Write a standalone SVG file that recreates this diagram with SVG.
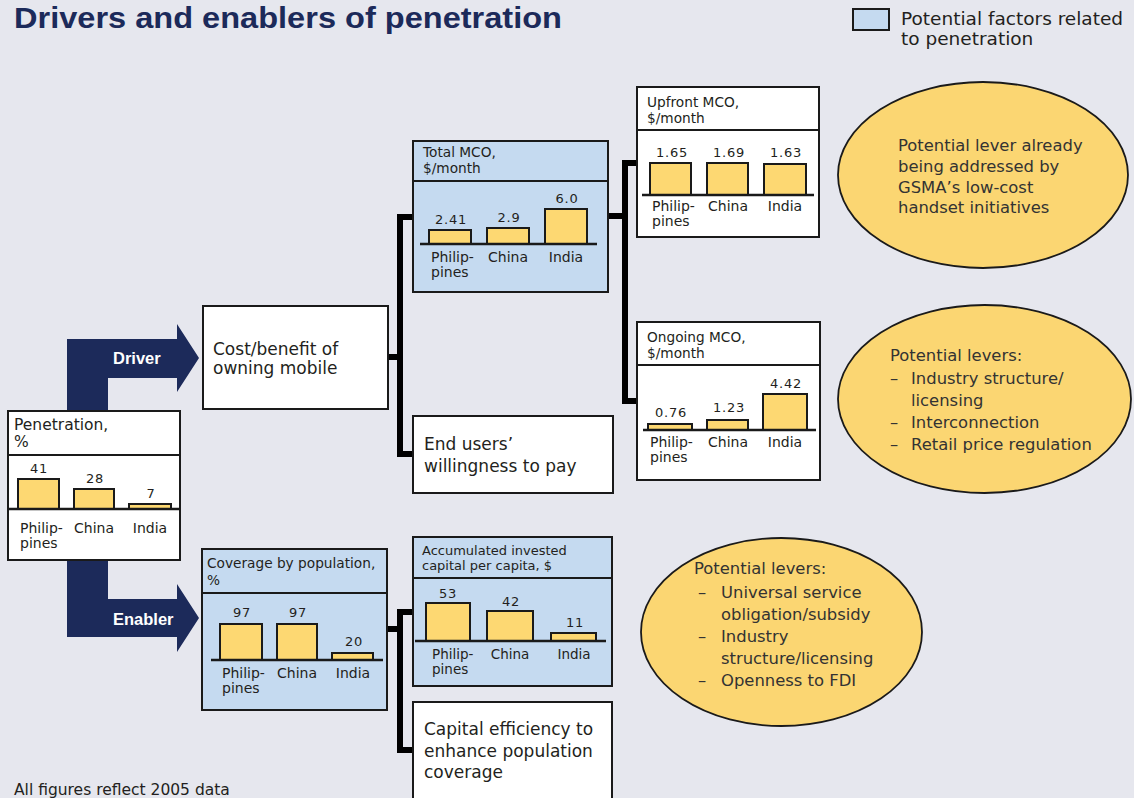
<svg xmlns="http://www.w3.org/2000/svg" width="1134" height="798" viewBox="0 0 1134 798">
  <defs>
    <style>
      .t { font-family: "DejaVu Sans", "Liberation Sans", sans-serif; fill: #231f20; }
      .ttl { font-size: 13.7px; }
      .big { font-size: 17px; }
      .val { font-size: 13px; letter-spacing: 0.8px; text-anchor: middle; }
      .ctry { font-size: 14px; }
      .mid { text-anchor: middle; }
      .lev { font-family: "DejaVu Sans", "Liberation Sans", sans-serif; font-size: 16.4px; fill: #333333; }
      .box { fill: #ffffff; stroke: #1a1a1a; stroke-width: 2; }
      .fac { fill: #c5daf0; stroke: #1a1a1a; stroke-width: 2; }
      .div { stroke: #1a1a1a; stroke-width: 2; }
      .axis { stroke: #1a1a1a; stroke-width: 2.5; }
      .bar { fill: #fdd872; stroke: #1a1a1a; stroke-width: 2; }
      .oval { fill: #fbd672; stroke: #1a1a1a; stroke-width: 1.8; }
      .conn { fill: none; stroke: #000000; stroke-width: 6; stroke-linejoin: miter; }
      .lbl { font-family: "Liberation Sans", Arial, sans-serif; font-weight: bold; font-size: 16.5px; fill: #ffffff; }
    </style>
  </defs>

  <!-- page background -->
  <rect x="0" y="0" width="1134" height="798" fill="#e6e7ee"/>

  <!-- title -->
  <text x="14" y="28" font-family="Liberation Sans, Arial, sans-serif" font-weight="bold" font-size="29" fill="#1c2a5a" textLength="548" lengthAdjust="spacingAndGlyphs">Drivers and enablers of penetration</text>

  <!-- legend -->
  <g id="legend">
    <rect x="853" y="9" width="36" height="21" class="fac"/>
    <text x="901" y="25" class="t" font-size="18.5" fill="#333">Potential factors related</text>
    <text x="901" y="45" class="t" font-size="18.5" fill="#333">to penetration</text>
  </g>

  <!-- driver / enabler arrows -->
  <g id="arrows">
    <path d="M67,339 H177 V324 L199,358 L177,392 V378 H108 V599 H177 V584 L199,618 L177,652 V637 H67 Z" fill="#1c2a5a"/>
    <text x="113" y="364" class="lbl">Driver</text>
    <text x="113" y="625" class="lbl">Enabler</text>
  </g>

  <!-- connectors -->
  <g id="connectors">
    <path class="conn" d="M413,217 H400 V454 H413 M388,357 H400"/>
    <path class="conn" d="M637,163 H625 V401 H637 M608,216 H625"/>
    <path class="conn" d="M413,612 H400 V750 H413 M387,629 H400"/>
  </g>

  <!-- penetration -->
  <g id="penetration">
    <rect x="8" y="411" width="172" height="149" class="box"/>
    <line x1="8" y1="455" x2="180" y2="455" class="div"/>
    <text x="14" y="430" class="t" font-size="15.5">Penetration,</text>
    <text x="14" y="447" class="t" font-size="15.5">%</text>
    <rect x="18" y="479" width="41" height="30" class="bar"/>
    <rect x="74" y="489" width="40" height="20" class="bar"/>
    <rect x="129" y="504" width="42" height="5" class="bar"/>
    <line x1="8" y1="509" x2="180" y2="509" class="axis"/>
    <text x="39" y="473" class="t val" font-size="14">41</text>
    <text x="95" y="483" class="t val" font-size="14">28</text>
    <text x="151" y="498" class="t val" font-size="14">7</text>
    <text x="20" y="533" class="t ctry">Philip-</text>
    <text x="20" y="548" class="t ctry">pines</text>
    <text x="94" y="533" class="t ctry mid">China</text>
    <text x="150" y="533" class="t ctry mid">India</text>
  </g>

  <!-- cost/benefit -->
  <g id="cost-benefit">
    <rect x="203" y="306" width="185" height="103" class="box"/>
    <text x="213" y="355" class="t big">Cost/benefit of</text>
    <text x="213" y="374" class="t big">owning mobile</text>
  </g>

  <!-- willingness to pay -->
  <g id="willingness">
    <rect x="413" y="416" width="200" height="77" class="box"/>
    <text x="424" y="450" class="t big">End users’</text>
    <text x="424" y="472" class="t big">willingness to pay</text>
  </g>

  <!-- total MCO -->
  <g id="total-mco">
    <rect x="413" y="141" width="195" height="151" class="fac"/>
    <line x1="413" y1="181" x2="608" y2="181" class="div"/>
    <text x="423" y="157" class="t ttl">Total MCO,</text>
    <text x="423" y="173" class="t ttl">$/month</text>
    <rect x="429" y="230" width="42" height="14" class="bar"/>
    <rect x="487" y="228" width="42" height="16" class="bar"/>
    <rect x="545" y="209" width="42" height="35" class="bar"/>
    <line x1="420" y1="244" x2="597" y2="244" class="axis"/>
    <text x="451" y="224" class="t val">2.41</text>
    <text x="509" y="222" class="t val">2.9</text>
    <text x="567" y="203" class="t val">6.0</text>
    <text x="431" y="262" class="t ctry">Philip-</text>
    <text x="431" y="277" class="t ctry">pines</text>
    <text x="508" y="262" class="t ctry mid">China</text>
    <text x="566" y="262" class="t ctry mid">India</text>
  </g>

  <!-- upfront MCO -->
  <g id="upfront-mco">
    <rect x="637" y="87" width="182" height="150" class="box"/>
    <line x1="637" y1="130" x2="819" y2="130" class="div"/>
    <text x="647" y="107" class="t ttl">Upfront MCO,</text>
    <text x="647" y="123" class="t ttl">$/month</text>
    <rect x="650" y="163" width="41" height="32" class="bar"/>
    <rect x="707" y="163" width="41" height="32" class="bar"/>
    <rect x="764" y="164" width="42" height="31" class="bar"/>
    <line x1="642" y1="195" x2="814" y2="195" class="axis"/>
    <text x="672" y="157" class="t val">1.65</text>
    <text x="729" y="157" class="t val">1.69</text>
    <text x="786" y="157" class="t val">1.63</text>
    <text x="652" y="211" class="t ctry">Philip-</text>
    <text x="652" y="226" class="t ctry">pines</text>
    <text x="728" y="211" class="t ctry mid">China</text>
    <text x="785" y="211" class="t ctry mid">India</text>
  </g>

  <!-- ongoing MCO -->
  <g id="ongoing-mco">
    <rect x="637" y="322" width="183" height="158" class="box"/>
    <line x1="637" y1="365" x2="820" y2="365" class="div"/>
    <text x="647" y="342" class="t ttl">Ongoing MCO,</text>
    <text x="647" y="358" class="t ttl">$/month</text>
    <rect x="648" y="424" width="44" height="6" class="bar"/>
    <rect x="707" y="420" width="41" height="10" class="bar"/>
    <rect x="763" y="394" width="44" height="36" class="bar"/>
    <line x1="643" y1="430" x2="816" y2="430" class="axis"/>
    <text x="671" y="417" class="t val">0.76</text>
    <text x="729" y="412" class="t val">1.23</text>
    <text x="786" y="388" class="t val">4.42</text>
    <text x="650" y="447" class="t ctry">Philip-</text>
    <text x="650" y="462" class="t ctry">pines</text>
    <text x="728" y="447" class="t ctry mid">China</text>
    <text x="785" y="447" class="t ctry mid">India</text>
  </g>

  <!-- coverage by population -->
  <g id="coverage">
    <rect x="202" y="549" width="185" height="161" class="fac"/>
    <line x1="202" y1="593" x2="387" y2="593" class="div"/>
    <text x="207" y="568" class="t ttl">Coverage by population,</text>
    <text x="207" y="585" class="t ttl">%</text>
    <rect x="220" y="624" width="42" height="36" class="bar"/>
    <rect x="277" y="624" width="40" height="36" class="bar"/>
    <rect x="332" y="653" width="41" height="7" class="bar"/>
    <line x1="211" y1="660" x2="383" y2="660" class="axis"/>
    <text x="242" y="617" class="t val">97</text>
    <text x="298" y="617" class="t val">97</text>
    <text x="354" y="646" class="t val">20</text>
    <text x="222" y="678" class="t ctry">Philip-</text>
    <text x="222" y="693" class="t ctry">pines</text>
    <text x="297" y="678" class="t ctry mid">China</text>
    <text x="353" y="678" class="t ctry mid">India</text>
  </g>

  <!-- accumulated invested capital -->
  <g id="invested-capital">
    <rect x="413" y="537" width="199" height="149" class="fac"/>
    <line x1="413" y1="578" x2="612" y2="578" class="div"/>
    <text x="422" y="555" class="t" font-size="13">Accumulated invested</text>
    <text x="422" y="570" class="t" font-size="13">capital per capita, $</text>
    <rect x="426" y="603" width="44" height="38" class="bar"/>
    <rect x="487" y="611" width="46" height="30" class="bar"/>
    <rect x="551" y="633" width="45" height="8" class="bar"/>
    <line x1="415" y1="641" x2="606" y2="641" class="axis"/>
    <text x="448" y="598" class="t val">53</text>
    <text x="511" y="606" class="t val">42</text>
    <text x="575" y="627" class="t val">11</text>
    <text x="432" y="659" class="t" font-size="13.5">Philip-</text>
    <text x="432" y="674" class="t" font-size="13.5">pines</text>
    <text x="510" y="659" class="t mid" font-size="13.5">China</text>
    <text x="574" y="659" class="t mid" font-size="13.5">India</text>
  </g>

  <!-- capital efficiency -->
  <g id="capital-efficiency">
    <rect x="413" y="702" width="199" height="100" class="box"/>
    <text x="424" y="735" class="t big">Capital efficiency to</text>
    <text x="424" y="757" class="t big">enhance population</text>
    <text x="424" y="778" class="t big">coverage</text>
  </g>

  <!-- lever notes -->
  <g id="lever-handsets">
    <ellipse cx="983" cy="175" rx="145" ry="93" class="oval"/>
    <text x="898" y="151" class="lev">Potential lever already</text>
    <text x="898" y="172" class="lev">being addressed by</text>
    <text x="898" y="193" class="lev">GSMA’s low-cost</text>
    <text x="898" y="213" class="lev">handset initiatives</text>
  </g>

  <g id="lever-ongoing">
    <ellipse cx="984.5" cy="399" rx="146.5" ry="94" class="oval"/>
    <text x="890" y="361" class="lev">Potential levers:</text>
    <text x="890" y="384" class="lev">–</text>
    <text x="911" y="384" class="lev">Industry structure/</text>
    <text x="911" y="406" class="lev">licensing</text>
    <text x="890" y="428" class="lev">–</text>
    <text x="911" y="428" class="lev">Interconnection</text>
    <text x="890" y="450" class="lev">–</text>
    <text x="911" y="450" class="lev">Retail price regulation</text>
  </g>

  <g id="lever-coverage">
    <ellipse cx="781.5" cy="632" rx="140.5" ry="94" class="oval"/>
    <text x="694" y="574" class="lev">Potential levers:</text>
    <text x="698" y="598" class="lev">–</text>
    <text x="721" y="598" class="lev">Universal service</text>
    <text x="721" y="620" class="lev">obligation/subsidy</text>
    <text x="698" y="642" class="lev">–</text>
    <text x="721" y="642" class="lev">Industry</text>
    <text x="721" y="664" class="lev">structure/licensing</text>
    <text x="698" y="686" class="lev">–</text>
    <text x="721" y="686" class="lev">Openness to FDI</text>
  </g>

  <!-- footnote -->
  <text x="14" y="795" class="t" font-size="15.5" fill="#333">All figures reflect 2005 data</text>
</svg>
